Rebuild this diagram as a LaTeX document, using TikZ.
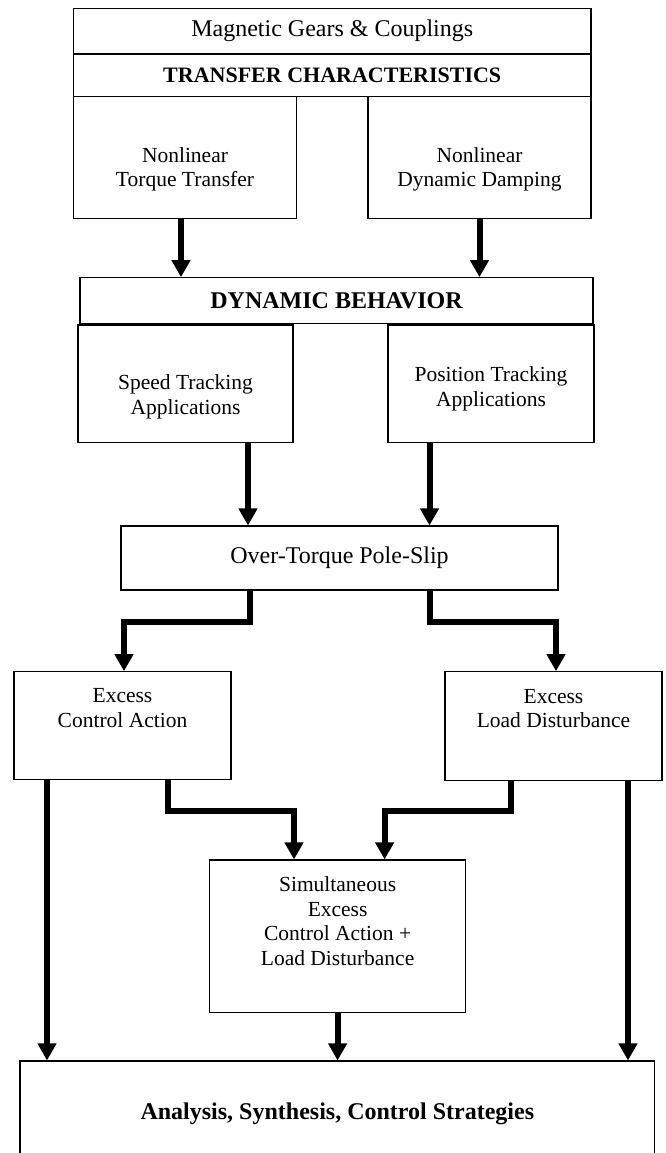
\documentclass[tikz,border=0pt]{standalone}
\usepackage{fontspec}
\setmainfont{Liberation Serif}
\usetikzlibrary{arrows.meta, positioning}
\tikzset{
	gbox/.style={draw, line width=1.1pt, inner sep=0pt, align=center,
		font=\fontsize{24}{28}\selectfont},
	gbold/.style={font=\fontsize{24}{28}\selectfont\bfseries},
	stxt/.style={align=center, font=\fontsize{21.5}{24.5}\selectfont},
	garr/.style={-{Triangle[length=17pt,width=18pt]}, line width=6pt}
}

\begin{document}
\begin{tikzpicture}[x=1pt, y=-1pt]
	\useasboundingbox (0,0) rectangle (665,1153);
	\clip (0,0) rectangle (665,1153);
	% header
	\node[gbox, minimum width=517.5pt, minimum height=45pt] (mag) at (332.25,30.8) {Magnetic Gears \& Couplings};
	\node[gbox, minimum width=517.5pt, minimum height=41.7pt, below=0pt of mag,
		font=\fontsize{22}{26}\selectfont\bfseries] (trans) {TRANSFER CHARACTERISTICS};
	\node[gbox, minimum width=223pt, minimum height=121.6pt,
		label={[stxt, yshift=-11.7pt]center:Nonlinear\\Torque Transfer}] (torque) at (185,157.5) {};
	\node[gbox, minimum width=223pt, minimum height=121.6pt,
		label={[stxt, yshift=-11.7pt]center:Nonlinear\\Dynamic Damping}] (damp) at (479.5,157.5) {};
	% dynamic behaviour
	\node[gbox, gbold, minimum width=513pt, minimum height=45.6pt] (dyn) at (336.5,300.5) {DYNAMIC BEHAVIOR};
	\node[gbox, minimum width=215pt, minimum height=117.7pt,
		label={[stxt, yshift=-13pt]center:Speed Tracking\\Applications}] (speed) at (185.5,383.85) {};
	\node[gbox, minimum width=206pt, minimum height=117.7pt,
		label={[stxt, yshift=-5pt]center:Position Tracking\\Applications}] (pos) at (491,383.85) {};
	\node[gbox, minimum width=437pt, minimum height=64pt] (over) at (339.5,558) {Over-Torque Pole-Slip};
	% excess cases
	\node[gbox, minimum width=217pt, minimum height=107.6pt,
		label={[stxt, yshift=17.5pt]center:Excess\\Control Action}] (ctrl) at (122.5,725.5) {};
	\node[gbox, minimum width=217pt, minimum height=109pt,
		label={[stxt, yshift=17.5pt]center:Excess\\Load Disturbance}] (load) at (553.5,726.2) {};
	\node[gbox, minimum width=256.4pt, minimum height=152.3pt,
		label={[stxt, yshift=15pt]center:Simultaneous\\Excess\\Control Action +\\Load Disturbance}] (simul) at (337.6,936.15) {};
	\node[gbox, gbold, minimum width=634.7pt, minimum height=106pt] (strat) at (337.35,1114) {Analysis, Synthesis, Control Strategies};
	% connectors
	\draw[garr] ([xshift=-4pt]torque.south) -- ([xshift=-4pt]torque.south |- dyn.north);
	\draw[garr] (damp.south) -- (damp.south |- dyn.north);
	\draw[garr] ([xshift=62.5pt]speed.south) -- ([xshift=62.5pt]speed.south |- over.north);
	\draw[garr] ([xshift=-61.5pt]pos.south) -- ([xshift=-61.5pt]pos.south |- over.north);
	\draw[garr] ([xshift=-89.5pt]over.south) -- ++(0,31) -| ([xshift=1.5pt]ctrl.north);
	\draw[garr] ([xshift=90pt]over.south) -- ++(0,31) -| ([xshift=2.5pt]load.north);
	\draw[garr] ([xshift=-75.5pt]ctrl.south) -- ([xshift=-75.5pt]ctrl.south |- strat.north);
	\draw[garr] ([xshift=74.5pt]load.south) -- ([xshift=74.5pt]load.south |- strat.north);
	\draw[garr] ([xshift=45.5pt]ctrl.south) -- ++(0,30.7) -| ([xshift=-43.6pt]simul.north);
	\draw[garr] ([xshift=-42.8pt]load.south) -- ++(0,29.3) -| ([xshift=47pt]simul.north);
	\draw[garr] (simul.south) -- (simul.south |- strat.north);
\end{tikzpicture}
\end{document}
